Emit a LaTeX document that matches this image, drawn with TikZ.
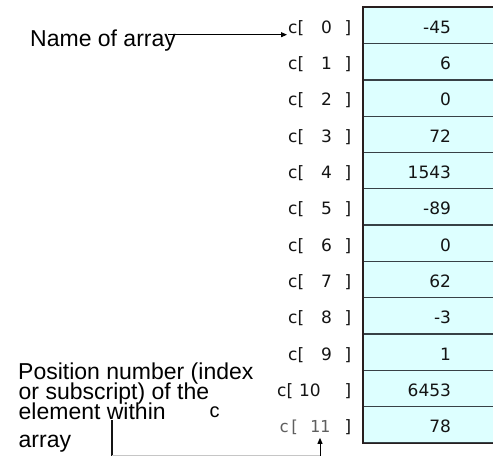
\documentclass[tikz,border=0pt]{standalone}
\usepackage{fontspec}
\setmainfont{Liberation Sans}
\newfontfamily\lblfont{DejaVu Sans}
\newfontfamily\valfont{DejaVu Sans}
\newfontfamily\lblmono{DejaVu Sans Mono}
\usetikzlibrary{arrows.meta}
\definecolor{cellfill}{RGB}{221,255,255}
\definecolor{sepcol}{RGB}{55,65,70}
\definecolor{framecol}{RGB}{40,30,30}
\definecolor{inkcol}{RGB}{20,20,20}
\definecolor{monogray}{RGB}{95,95,95}
\begin{document}
\begin{tikzpicture}[x=1pt,y=-1pt,
  cellbox/.style={draw=sepcol, line width=1.3pt, fill=cellfill, inner sep=0pt,
    minimum width=140pt, minimum height=36.3pt, anchor=north west},
  lbl/.style={inner sep=0pt, font=\lblfont\fontsize{17}{19}\selectfont, text=inkcol},
  lblm/.style={inner sep=0pt, font=\lblmono\fontsize{16.5}{18}\selectfont, text=monogray},
  val/.style={inner sep=0pt, font=\valfont\fontsize{17}{19}\selectfont, text=inkcol, anchor=base east},
  note/.style={inner sep=0pt, font=\fontsize{23}{25}\selectfont, anchor=base west, text=black},
  arr/.style={-{Triangle[length=6pt,width=5pt]}, line width=0.9pt, draw=black}]
\useasboundingbox (0,0) rectangle (493,457);
\fill[white] (0,0) rectangle (493,457);
% cells and values
\foreach \v [count=\i from 0] in {-45,6,0,72,1543,-89,0,62,-3,1,6453,78} {
  \node[cellbox] (cell\i) at (362.7,{6.7+36.3*\i}) {};
  \node[val] (val\i) at (451.2,{6.7+36.3*(\i+0.5)+8.5}) {\v};
}
\draw[framecol, line width=1.7pt] (cell0.north west) rectangle (cell11.south east);
% labels
\foreach \d/\cx/\dx [count=\i from 0] in {0/288/326.5,1/288/326.5,2/288/326.5,3/288/326.5,4/288/326.5,5/288/326.5,6/288/326.5,7/288/326.5,8/288/326.5,9/288/326.5,10/277/310} {
  \node[lbl, anchor=base west] (lc\i) at (\cx,{6.7+36.3*(\i+0.5)+8.5}) {c[};
  \node[lbl, anchor=base] (ld\i) at (\dx,{6.7+36.3*(\i+0.5)+8.5}) {\d};
  \node[lbl, anchor=base east] (lb\i) at (351.5,{6.7+36.3*(\i+0.5)+8.5}) {]};
}
\node[lblm, anchor=base west] (lc11) at (279,{6.7+36.3*11.5+8.5}) {c[};
\node[lblm, anchor=base] (ld11) at (320,{6.7+36.3*11.5+8.5}) {11};
\node[lbl, anchor=base east] (lb11) at (351.5,{6.7+36.3*11.5+8.5}) {]};
% name of array
\node[note] (nameA) at (30,46.7) {Name of array};
\coordinate (nstart) at (168,34.7);
\draw[arr, shorten >=1pt] (nstart) -- (nstart -| lc0.west);
% position number text
\node[note] (pos1) at (18,379.3) {Position number (index};
\node[note] (pos2) at (18.5,399.5) {or subscript) of the};
\node[note] (pos3) at (18.5,419) {element within};
\node[note] (pos4) at (18.5,447) {array};
\node[note, font=\fontsize{20}{22}\selectfont] (smallc) at (209.5,417) {c};
% bottom connector
\coordinate (bv1) at (112,420);
\coordinate (bv2) at (112,455.5);
\coordinate (bh) at (320,455.5);
\draw[line width=1.6pt, inkcol] (bv1) -- (bv2);
\draw[line width=0.8pt, gray!45] (bv2) -- (bh);
\draw[arr, shorten >=5pt] (bh) -- (ld11.south);
\end{tikzpicture}
\end{document}
